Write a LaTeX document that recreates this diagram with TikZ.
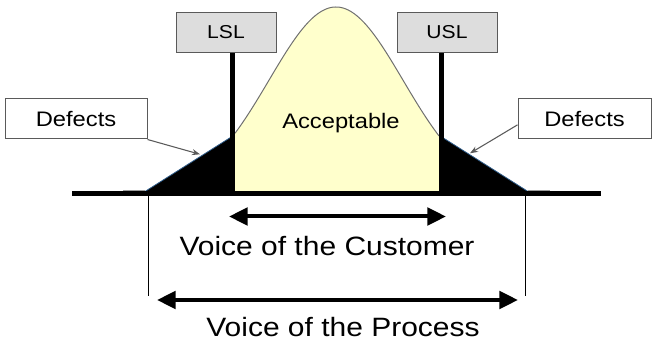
\documentclass[tikz,border=0pt]{standalone}
\usepackage{fontspec}
\setmainfont{Liberation Sans}[FakeStretch=1.13]
\usetikzlibrary{arrows.meta}
\definecolor{bellfill}{HTML}{FFFFCC}
\definecolor{limitfill}{HTML}{DDDDDD}
\definecolor{edgegrey}{HTML}{5A5A5A}
\definecolor{curvegrey}{HTML}{707070}
\definecolor{tailedge}{HTML}{2E5C8A}

\begin{document}
\begin{tikzpicture}[x=0.75pt,y=-0.75pt,
  limitbox/.style={draw=edgegrey, fill=limitfill, line width=0.75pt,
    minimum width=75pt, minimum height=30pt, inner sep=0pt,
    font=\fontsize{14pt}{16pt}\selectfont},
  defectbox/.style={draw=edgegrey, fill=white, line width=0.75pt,
    minimum height=30pt, inner sep=0pt,
    font=\fontsize{15.75pt}{18pt}\selectfont},
  speclimit/.style={line width=3.75pt, line cap=butt},
  axisline/.style={line width=3.75pt, line cap=butt},
  guide/.style={line width=0.75pt},
  span/.style={line width=3pt, {Triangle[length=14pt,width=13pt]}-{Triangle[length=14pt,width=13pt]}},
  pointer/.style={draw=edgegrey, line width=0.8pt, -{Stealth[length=6pt,width=4.5pt]}},
  tail/.style={fill=black, draw=tailedge, line width=0.6pt, line join=round},
  label/.style={inner sep=0pt, anchor=base},
  bigtext/.style={font=\fontsize{19.9pt}{22pt}\selectfont},
]
\useasboundingbox (0,0) rectangle (652,341);

% bell curve: acceptable region between the specification limits
\fill[bellfill] (235,194)
  -- plot[domain=235:439, samples=80] (\x,{193-186*exp(-((\x-336)^2)/8978)})
  -- (439,194) -- cycle;
\draw[curvegrey, line width=0.75pt]
  plot[domain=235:439, samples=80] (\x,{193-186*exp(-((\x-336)^2)/8978)});

% faint ends of the distribution beyond the tails
\draw[curvegrey!70, line width=0.5pt] (123,190) -- (145,190);
\draw[curvegrey!70, line width=0.5pt] (528,190) -- (550,190);

% defect tails
\filldraw[tail] (145,191.5) -- (232,136.5) -- (232,192) -- cycle;
\filldraw[tail] (441,136.5) -- (528,191.5) -- (441,192) -- cycle;

% specification limit boxes and posts
\node[limitbox] (lsl) at (226,32.3) {LSL};
\node[limitbox] (usl) at (447,32.3) {USL};
\coordinate (lslfoot) at (232.5,194);
\coordinate (uslfoot) at (441,194);
\draw[speclimit] (lslfoot |- lsl.south) -- (lslfoot);
\draw[speclimit] (uslfoot |- usl.south) -- (uslfoot);

% horizontal axis
\coordinate (axisL) at (72,194);
\coordinate (axisR) at (601,194);
\draw[axisline] (axisL) -- (axisR);

\node[label, font=\fontsize{15.75pt}{18pt}\selectfont] (acc) at (341,128.3) {Acceptable};

% defect call-outs
\node[defectbox, minimum width=106.5pt] (defL) at (76,119) {Defects};
\node[defectbox, minimum width=99.75pt] (defR) at (584.5,119) {Defects};
\coordinate (tipL) at (200,154.3);
\coordinate (tipR) at (470,153.3);
\draw[pointer] (defL.south east) -- (tipL);
\draw[pointer] (defR.185) -- (tipR);

% process spread markers
\coordinate (vopLtop) at (148,196);
\coordinate (vopLbot) at (148,296);
\coordinate (vopRtop) at (525,196);
\coordinate (vopRbot) at (525,296);
\draw[guide] (vopLtop) -- (vopLbot);
\draw[guide] (vopRtop) -- (vopRbot);

% voice of the customer / process spans
\coordinate (vocL) at (229,216.5);
\coordinate (vocR) at (446,216.5);
\draw[span] (vocL) -- (vocR);
\node[label, bigtext] (voc) at (327,256) {Voice of the Customer};

\coordinate (vopL) at (157,300);
\coordinate (vopR) at (518,300);
\draw[span] (vopL) -- (vopR);
\node[label, bigtext] (vop) at (343,336.5) {Voice of the Process};
\end{tikzpicture}
\end{document}
